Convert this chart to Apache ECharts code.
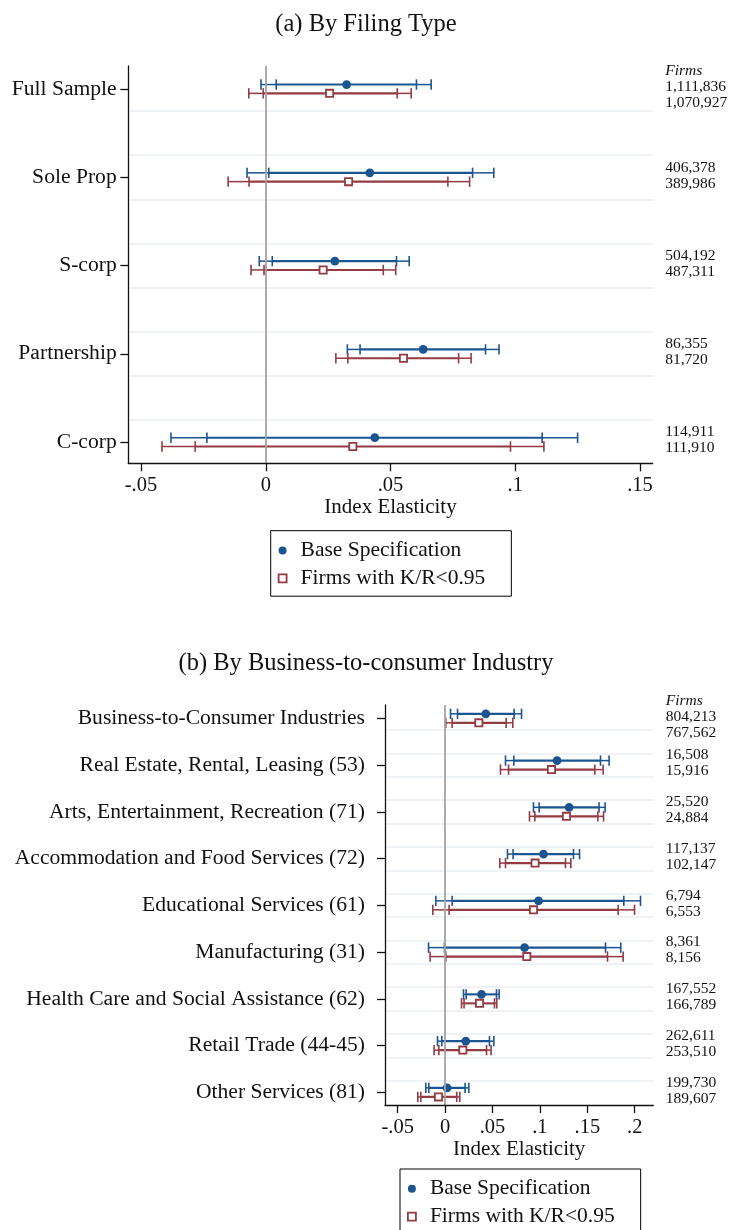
<!DOCTYPE html>
<html>
<head>
<meta charset="utf-8">
<script src="https://cdn.jsdelivr.net/npm/echarts@6/dist/echarts.min.js"></script>
<style>
  html, body { margin: 0; padding: 0; background: #ffffff; }
  #chart { width: 732px; height: 1230px; }
</style>
</head>
<body>
<div id="chart"></div>
<script>
// ---- Panel (a): elasticity by filing type ----
const filingTypes = ['Full Sample', 'Sole Prop', 'S-corp', 'Partnership', 'C-corp'];
// each row: [lower 95%, lower 90%, estimate, upper 90%, upper 95%]
const filingBase = [
  [-0.0019,  0.0042, 0.0324, 0.0604, 0.0663],
  [-0.0075,  0.0012, 0.0417, 0.0829, 0.0914],
  [-0.0026,  0.0026, 0.0277, 0.0524, 0.0575],
  [ 0.0327,  0.0378, 0.0631, 0.0881, 0.0935],
  [-0.0380, -0.0236, 0.0437, 0.1108, 0.1250]
];
const filingKR = [
  [-0.0068, -0.0010, 0.0256, 0.0527, 0.0583],
  [-0.0151, -0.0067, 0.0332, 0.0730, 0.0817],
  [-0.0059, -0.0007, 0.0230, 0.0471, 0.0521],
  [ 0.0281,  0.0329, 0.0552, 0.0773, 0.0823],
  [-0.0416, -0.0283, 0.0349, 0.0981, 0.1115]
];
const filingFirmsBase = [1111836, 406378, 504192, 86355, 114911];
const filingFirmsKR   = [1070927, 389986, 487311, 81720, 111910];
const filingTicks = [-0.05, 0, 0.05, 0.1, 0.15];

// ---- Panel (b): elasticity by business-to-consumer industry ----
const industries = [
  'Business-to-Consumer Industries',
  'Real Estate, Rental, Leasing (53)',
  'Arts, Entertainment, Recreation (71)',
  'Accommodation and Food Services (72)',
  'Educational Services (61)',
  'Manufacturing (31)',
  'Health Care and Social Assistance (62)',
  'Retail Trade (44-45)',
  'Other Services (81)'
];
const industryBase = [
  [ 0.0057,  0.0131, 0.0429, 0.0728, 0.0806],
  [ 0.0637,  0.0725, 0.1181, 0.1639, 0.1730],
  [ 0.0932,  0.0992, 0.1308, 0.1624, 0.1688],
  [ 0.0658,  0.0717, 0.1038, 0.1354, 0.1418],
  [-0.0098,  0.0074, 0.0985, 0.1885, 0.2061],
  [-0.0175, -0.0007, 0.0838, 0.1692, 0.1853],
  [ 0.0194,  0.0222, 0.0384, 0.0542, 0.0570],
  [-0.0080, -0.0035, 0.0218, 0.0468, 0.0514],
  [-0.0204, -0.0172, 0.0021, 0.0211, 0.0250]
];
const industryKR = [
  [ 0.0007,  0.0074, 0.0356, 0.0644, 0.0714],
  [ 0.0584,  0.0669, 0.1122, 0.1579, 0.1667],
  [ 0.0890,  0.0946, 0.1280, 0.1611, 0.1671],
  [ 0.0577,  0.0637, 0.0949, 0.1270, 0.1326],
  [-0.0130,  0.0042, 0.0932, 0.1825, 0.1998],
  [-0.0158,  0.0007, 0.0862, 0.1713, 0.1878],
  [ 0.0173,  0.0200, 0.0363, 0.0521, 0.0545],
  [-0.0116, -0.0066, 0.0187, 0.0437, 0.0485],
  [-0.0288, -0.0256, -0.0070, 0.0123, 0.0155]
];
const industryFirmsBase = [804213, 16508, 25520, 117137, 6794, 8361, 167552, 262611, 199730];
const industryFirmsKR   = [767562, 15916, 24884, 102147, 6553, 8156, 166789, 253510, 189607];
const industryTicks = [-0.05, 0, 0.05, 0.1, 0.15, 0.2];

const seriesNames = ['Base Specification', 'Firms with K/R<0.95'];

// ---- styling ----
const BLUE = '#1b5591';
const RED = '#943a42';
const INK = '#111111';
const FONT = '"Liberation Serif", "Times New Roman", serif';

function tickText(v) {
  if (v === 0) return '0';
  const s = String(Math.abs(v)).replace(/^0/, '');
  return (v < 0 ? '-' : '') + s;
}
const fmtFirms = n => n.toLocaleString('en-US');

function rows(est, firms) {
  return est.map((r, i) => [i + 1].concat(r, [firms[i]]));
}

// Draws one coefficient: two nested confidence intervals with caps, the point marker
// and the firm count printed to the right of the plot area.
function errorBarRenderer(color, dy, isBase) {
  return function (params, api) {
    const row = api.value(0);
    const xs = [1, 2, 3, 4, 5].map(i => api.coord([api.value(i), row])[0]);
    const yc = api.coord([0, row])[1];
    const y = yc + dy;
    const kids = [];
    const seg = (x1, x2, w) => ({
      type: 'line', shape: { x1: x1, y1: y, x2: x2, y2: y },
      style: { stroke: color, lineWidth: w }
    });
    kids.push(seg(xs[0], xs[1], 1.5), seg(xs[1], xs[3], 2.1), seg(xs[3], xs[4], 1.5));
    [0, 1, 3, 4].forEach(k => kids.push({
      type: 'line', shape: { x1: xs[k], y1: y - 5.2, x2: xs[k], y2: y + 5.2 },
      style: { stroke: color, lineWidth: 1.6 }
    }));
    if (isBase) {
      kids.push({ type: 'circle', shape: { cx: xs[2], cy: y, r: 4.4 }, style: { fill: color } });
    } else {
      kids.push({ type: 'rect', shape: { x: xs[2] - 3.6, y: y - 3.6, width: 7.2, height: 7.2 },
        style: { fill: '#ffffff', stroke: color, lineWidth: 1.8 } });
    }
    const cs = params.coordSys;
    const tx = cs.x + cs.width + 12.5;
    const first = params.dataIndex === 0;
    const shift = first ? 8 : 0;
    const ty = yc - 1.7 + (isBase ? -8 : 8) + shift;
    kids.push({
      type: 'text',
      style: { text: fmtFirms(api.value(6)), x: tx, y: ty, fill: INK,
        font: '15.5px ' + FONT, align: 'left', verticalAlign: 'middle' }
    });
    if (first && isBase) {
      kids.push({
        type: 'text',
        style: { text: 'Firms', x: tx, y: ty - 16, fill: INK,
          font: 'italic 15.5px ' + FONT, align: 'left', verticalAlign: 'middle' }
      });
    }
    return { type: 'group', children: kids };
  };
}

function errorSeries(name, gridIdx, data, color, dy, isBase) {
  return {
    name: name, type: 'custom', xAxisIndex: gridIdx, yAxisIndex: gridIdx,
    z: 3, clip: false, silent: true,
    itemStyle: { color: color },
    encode: { x: [1, 2, 3, 4, 5], y: 0 },
    renderItem: errorBarRenderer(color, dy, isBase),
    data: data
  };
}

// Light separators between rows plus the zero reference line
function guideSeries(gridIdx, nCats) {
  const seps = [];
  for (let k = 1; k < nCats; k++) { seps.push(k + 0.25, k + 0.75); }
  return {
    type: 'line', xAxisIndex: gridIdx, yAxisIndex: gridIdx, z: 1, silent: true, data: [],
    markLine: {
      silent: true, symbol: 'none', animation: false,
      label: { show: false },
      data: seps.map(v => ({ yAxis: v, lineStyle: { color: '#e8eef2', width: 1.6, type: 'solid' } }))
        .concat([{ xAxis: 0, lineStyle: { color: '#a3a3a3', width: 1.8, type: 'solid' } }])
    }
  };
}

function xAxisFor(gridIdx, min, max, ticks) {
  return {
    type: 'value', gridIndex: gridIdx, min: min, max: max, z: 5,
    axisLine: { show: true, onZero: false, lineStyle: { color: INK, width: 1.3 } },
    axisTick: { show: true, customValues: ticks, length: 8, lineStyle: { color: INK, width: 1.3 } },
    axisLabel: { customValues: ticks, formatter: tickText, margin: 12,
      fontFamily: FONT, fontSize: 20.5, color: INK, lineHeight: 21 },
    splitLine: { show: false },
    name: 'Index Elasticity', nameLocation: 'middle', nameGap: 34,
    nameTextStyle: { fontFamily: FONT, fontSize: 21, color: INK, lineHeight: 21 }
  };
}

function yAxisFor(gridIdx, cats, min, max, margin) {
  const pos = cats.map((c, i) => i + 1);
  return {
    type: 'value', gridIndex: gridIdx, inverse: true, min: min, max: max, z: 5,
    axisLine: { show: true, onZero: false, lineStyle: { color: INK, width: 1.3 } },
    axisTick: { show: true, customValues: pos, length: 8, lineStyle: { color: INK, width: 1.3 } },
    axisLabel: { customValues: pos, formatter: v => cats[Math.round(v) - 1], margin: margin,
      fontFamily: FONT, fontSize: 21.6, color: INK },
    splitLine: { show: false }
  };
}

function legendFor(left, top) {
  return {
    orient: 'vertical', left: left, top: top, height: 50,
    itemWidth: 8, itemHeight: 8, itemGap: 5.9,
    padding: [8.8, 26, 6.8, 7],
    borderColor: '#000000', borderWidth: 1,
    selectedMode: false,
    textStyle: { fontFamily: FONT, fontSize: 21.5, color: INK, lineHeight: 21, padding: [0, 0, 0, 9] },
    data: [
      { name: seriesNames[0], icon: 'circle', itemStyle: { color: BLUE } },
      { name: seriesNames[1], icon: 'rect',
        itemStyle: { color: '#ffffff', borderColor: RED, borderWidth: 1.8 } }
    ]
  };
}

const chart = echarts.init(document.getElementById('chart'), null, { renderer: 'canvas' });
chart.setOption({
  animation: false,
  backgroundColor: '#ffffff',
  title: [
    { text: '(a) By Filing Type', left: 'center', top: 12, padding: [0, 0, 0, 8],
      textStyle: { fontFamily: FONT, fontSize: 24.5, fontWeight: 'normal', color: INK, lineHeight: 26 } },
    { text: '(b) By Business-to-consumer Industry', left: 'center', top: 651, padding: [0, 0, 0, 8],
      textStyle: { fontFamily: FONT, fontSize: 24.5, fontWeight: 'normal', color: INK, lineHeight: 26 } }
  ],
  legend: [legendFor(270.7, 530.7), legendFor(400, 1169)],
  grid: [
    { left: 128.3, top: 66, width: 524.4, height: 397.3 },
    { left: 385, top: 705, width: 268.3, height: 400 }
  ],
  xAxis: [
    xAxisFor(0, -0.0551, 0.1551, filingTicks),
    xAxisFor(1, -0.0634, 0.2196, industryTicks)
  ],
  yAxis: [
    yAxisFor(0, filingTypes, 0.74, 5.24, 11.6),
    yAxisFor(1, industries, 0.715, 9.27, 20)
  ],
  series: [
    guideSeries(0, filingTypes.length),
    guideSeries(1, industries.length),
    errorSeries(seriesNames[0], 0, rows(filingBase, filingFirmsBase), BLUE, -4.4, true),
    errorSeries(seriesNames[1], 0, rows(filingKR, filingFirmsKR), RED, 4.4, false),
    errorSeries(seriesNames[0], 1, rows(industryBase, industryFirmsBase), BLUE, -4.5, true),
    errorSeries(seriesNames[1], 1, rows(industryKR, industryFirmsKR), RED, 4.5, false)
  ]
});
</script>
</body>
</html>
